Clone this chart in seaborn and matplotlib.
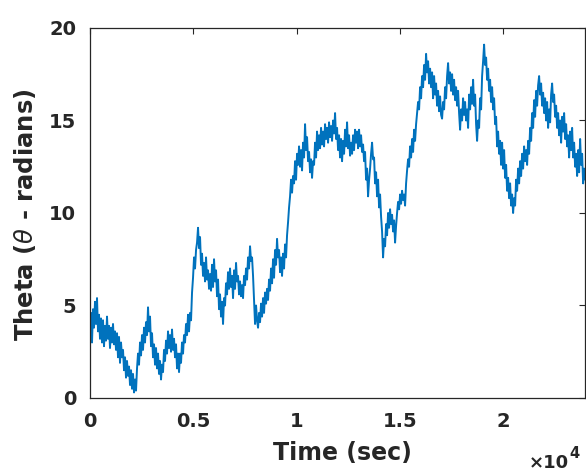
import numpy as np
import pandas as pd
import matplotlib
matplotlib.use("Agg")
import matplotlib.pyplot as plt
import seaborn as sns
from matplotlib.ticker import FixedLocator, FuncFormatter

sample_interval_sec = 48.43
theta = [
    3.5, 4.6, 3.0, 4.8, 3.8, 5.2, 4.0, 5.4, 3.6, 4.5, 3.2, 4.3, 3.0, 4.2, 2.8, 3.9, 3.1, 4.4, 3.2, 3.9,
    2.7, 3.8, 3.0, 4.0, 2.9, 3.6, 2.6, 3.5, 2.2, 3.3, 1.9, 3.0, 2.2, 2.6, 1.5, 2.2, 1.1, 2.0, 1.2, 1.7,
    0.7, 1.5, 0.5, 1.3, 0.3, 1.0, 0.4, 1.6, 2.4, 1.8, 3.0, 2.3, 3.4, 2.6, 3.8, 3.0, 4.1, 3.4, 4.9, 3.6,
    4.4, 2.8, 3.5, 2.2, 2.9, 1.8, 2.7, 1.6, 2.4, 1.3, 2.0, 1.0, 1.8, 1.4, 2.6, 2.0, 3.1, 2.4, 3.6, 2.7,
    3.4, 2.5, 3.7, 2.6, 3.2, 2.2, 2.9, 1.6, 2.4, 1.4, 2.4, 1.9, 3.0, 2.4, 3.4, 3.0, 4.0, 3.4, 4.5, 3.6,
    4.6, 4.2, 5.7, 6.5, 7.6, 7.0, 8.0, 8.4, 9.2, 8.1, 8.7, 7.2, 7.8, 6.6, 7.3, 6.3, 7.6, 6.4, 6.9, 5.9,
    6.7, 5.8, 7.2, 6.0, 7.5, 6.3, 6.9, 5.5, 6.4, 4.8, 5.6, 4.4, 5.2, 4.0, 5.4, 5.0, 6.2, 5.6, 6.8, 5.9,
    7.0, 6.0, 6.6, 5.4, 6.9, 5.9, 7.3, 6.3, 6.6, 5.6, 6.3, 5.5, 6.1, 5.4, 6.6, 6.1, 7.0, 6.4, 7.6, 7.0,
    8.2, 7.4, 7.6, 6.6, 5.3, 4.0, 5.0, 4.2, 3.8, 4.6, 4.1, 5.1, 4.4, 5.4, 4.6, 5.7, 5.1, 5.9, 5.3, 6.4,
    5.8, 7.0, 6.2, 7.5, 6.5, 8.0, 7.2, 8.6, 7.6, 8.0, 6.8, 7.6, 6.6, 7.8, 7.0, 8.3, 7.6, 8.8, 9.5, 10.3,
    10.9, 11.8, 11.1, 12.0, 11.6, 12.8, 11.8, 13.2, 12.6, 13.6, 12.5, 13.4, 12.3, 13.8, 13.0, 14.8, 13.4, 14.1, 12.8, 13.3,
    12.2, 12.9, 11.9, 12.8, 12.6, 13.8, 13.0, 14.4, 13.4, 14.2, 13.5, 14.6, 13.7, 14.4, 13.6, 14.8, 14.0, 14.6, 13.8, 14.9,
    14.1, 14.7, 13.9, 15.0, 14.3, 15.4, 14.0, 14.6, 13.4, 14.2, 13.0, 14.0, 12.8, 13.9, 13.2, 14.5, 13.6, 14.9, 13.5, 14.2,
    13.1, 13.8, 13.2, 14.2, 13.4, 14.5, 13.8, 14.4, 13.5, 14.5, 13.6, 14.2, 13.3, 13.7, 12.8, 13.3, 11.8, 12.4, 10.9, 11.8,
    12.4, 13.2, 13.8, 12.9, 13.0, 11.6, 12.2, 10.9, 11.8, 10.3, 11.0, 9.8, 9.0, 7.6, 8.6, 8.2, 9.4, 8.8, 10.0, 9.2,
    10.2, 9.4, 9.9, 9.0, 9.6, 8.4, 9.3, 10.0, 10.6, 10.2, 11.0, 10.5, 11.2, 10.7, 11.0, 10.4, 11.6, 12.3, 12.9, 12.5,
    13.6, 13.0, 14.0, 13.3, 14.5, 13.9, 14.8, 15.4, 16.0, 15.6, 16.8, 16.2, 17.4, 16.8, 18.0, 17.2, 18.6, 17.6, 18.2, 17.0,
    17.8, 16.8, 17.6, 16.2, 17.4, 16.4, 17.0, 15.8, 16.6, 15.5, 16.3, 15.3, 15.1, 16.0, 15.6, 16.8, 16.2, 17.4, 18.1, 17.0,
    17.6, 16.6, 17.5, 16.4, 17.2, 16.1, 16.8, 15.8, 16.6, 15.4, 14.5, 15.6, 15.0, 16.2, 15.3, 16.0, 15.0, 15.6, 14.6, 16.4,
    15.6, 16.8, 15.9, 17.2, 15.8, 16.4, 14.8, 13.9, 15.0, 14.6, 16.2, 15.6, 17.4, 18.2, 19.1, 18.0, 18.4, 17.2, 17.8, 16.6,
    17.2, 16.0, 16.8, 15.6, 16.2, 14.8, 15.2, 13.6, 14.4, 13.2, 13.9, 12.6, 13.8, 12.4, 13.4, 11.9, 12.6, 11.2, 11.9, 10.8,
    11.6, 10.4, 11.0, 10.0, 10.8, 10.4, 11.8, 11.2, 12.4, 11.6, 12.8, 12.0, 13.2, 12.4, 13.6, 12.8, 13.4, 12.6, 13.9, 13.2,
    14.6, 13.9, 15.4, 14.6, 16.1, 15.2, 16.6, 15.8, 16.9, 17.4, 16.4, 17.0, 15.8, 16.5, 15.4, 16.2, 15.0, 16.0, 14.6, 15.6,
    14.9, 16.4, 17.0, 16.0, 16.4, 15.2, 15.8, 14.6, 15.4, 14.2, 15.0, 13.8, 15.2, 14.4, 15.4, 14.0, 14.8, 13.6, 14.2, 13.0,
    14.4, 13.4, 14.6, 13.0, 13.8, 12.5, 13.2, 12.0, 13.4, 12.2, 14.0, 12.6, 13.2, 11.6, 12.4, 11.8,
]
time_sec = np.arange(len(theta)) * sample_interval_sec

x_ticks = [0, 5000, 10000, 15000, 20000]
x_tick_labels = ["0", "0.5", "1", "1.5", "2"]
y_ticks = [0, 5, 10, 15, 20]
y_tick_labels = ["0", "5", "10", "15", "20"]

df = pd.DataFrame({"time": time_sec, "theta": theta})

# ---- style ----
sns.set_style("white")
plt.rcParams["font.family"] = ["DejaVu Sans"]
plt.rcParams["mathtext.fontset"] = "dejavusans"

fig = plt.figure(figsize=(5.86, 4.72), dpi=100)
ax = fig.add_axes([0.1536, 0.1568, 0.8448, 0.7839])

sns.lineplot(data=df, x="time", y="theta", ax=ax, color="#0072BD",
             linewidth=1.4, sort=False, errorbar=None)

ax.set_xlim(0, 23970)
ax.set_ylim(0, 20)
ax.xaxis.set_major_locator(FixedLocator(x_ticks))
ax.xaxis.set_major_formatter(FuncFormatter(lambda v, p: x_tick_labels[x_ticks.index(v)] if v in x_ticks else ""))
ax.yaxis.set_major_locator(FixedLocator(y_ticks))
ax.yaxis.set_major_formatter(FuncFormatter(lambda v, p: y_tick_labels[y_ticks.index(v)] if v in y_ticks else ""))

dark = "#262626"
for s in ax.spines.values():
    s.set_visible(True)
    s.set_color(dark)
    s.set_linewidth(0.9)

ax.tick_params(axis="both", which="major", direction="in", length=4, width=0.8,
               color=dark, labelcolor=dark, labelsize=14, pad=10,
               top=True, right=True)
for lab in ax.get_xticklabels() + ax.get_yticklabels():
    lab.set_fontweight("bold")

ax.set_xlabel("Time (sec)", fontsize=17, fontweight="bold", color=dark)
ax.set_ylabel(r"Theta ($\theta$ - radians)", fontsize=17.5, fontweight="bold", color=dark)
ax.xaxis.set_label_coords(0.51, -0.115)
ax.yaxis.set_label_coords(-0.105, 0.495)

# MATLAB-style exponent label
fig.text(0.903, 0.008, "×10", fontsize=13, fontweight="bold", color=dark, ha="left", va="baseline")
fig.text(0.972, 0.030, "4", fontsize=10.5, fontweight="bold", color=dark, ha="left", va="baseline")

fig.savefig("out.png", dpi=100, facecolor="white")
